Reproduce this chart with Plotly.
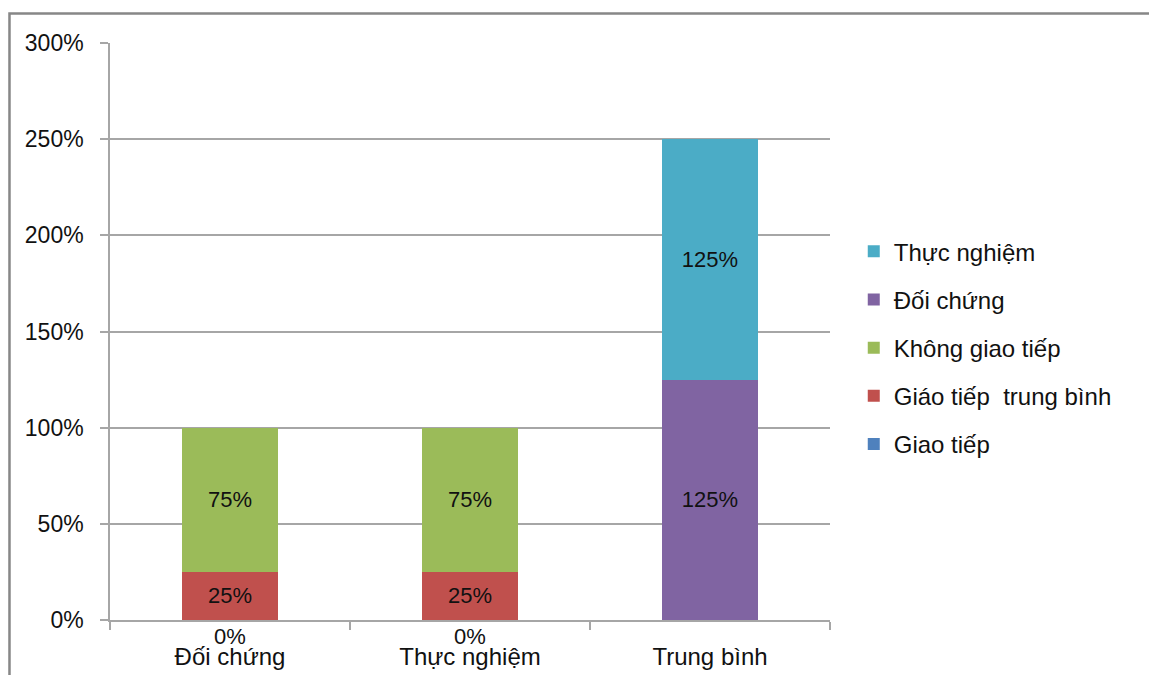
import plotly.graph_objects as go

# Categories and series values (fractions of 1 = 100%)
categories = ["Đối chứng", "Thực nghiệm", "Trung bình"]
giao_tiep = [0, 0, None]
giao_tiep_tb = [0.25, 0.25, None]
khong_giao_tiep = [0.75, 0.75, None]
doi_chung = [None, None, 1.25]
thuc_nghiem = [None, None, 1.25]
y_ticks = [0, 0.5, 1.0, 1.5, 2.0, 2.5, 3.0]

FONT = "Liberation Sans, Arial, sans-serif"
TEXT = "#111111"
GRID = "#a6a6a6"

# stacking order bottom -> top; legend lists them top -> bottom
series = [
    ("Giao tiếp", giao_tiep, "#4f81bd"),
    ("Giáo tiếp  trung bình", giao_tiep_tb, "#c0504d"),
    ("Không giao tiếp", khong_giao_tiep, "#9bbb59"),
    ("Đối chứng", doi_chung, "#8064a2"),
    ("Thực nghiệm", thuc_nghiem, "#4bacc6"),
]


def pct(v):
    return "" if v is None or v == 0 else f"{v:.0%}"


fig = go.Figure()
for i, (name, vals, color) in enumerate(series):
    fig.add_trace(go.Bar(
        x=categories, y=vals, name=name, legendgroup=name,
        legendrank=len(series) - i,
        marker=dict(color=color, line=dict(width=0)),
        text=[pct(v) for v in vals],
        textposition="inside", insidetextanchor="middle",
        textfont=dict(family=FONT, size=22, color=TEXT),
        constraintext="none", hoverinfo="skip",
    ))

# zero-valued labels sit just under the axis
for cat, v in zip(categories, giao_tiep):
    if v is not None:
        fig.add_annotation(x=cat, y=v, text=f"{v:.0%}", showarrow=False,
                           yanchor="top", yshift=-2,
                           font=dict(family=FONT, size=22, color=TEXT))

# outer chart frame
fig.add_shape(type="rect", xref="paper", yref="paper",
              x0=-0.1396, x1=1.46, y0=-0.13, y1=1.0511,
              line=dict(color="#878787", width=2.5), fillcolor="rgba(0,0,0,0)",
              layer="above")

fig.update_layout(
    width=1149, height=675,
    margin=dict(l=110, r=319, t=43, b=55, autoexpand=False),
    barmode="stack", bargap=0.6,
    paper_bgcolor="white", plot_bgcolor="white",
    font=dict(family=FONT, color=TEXT),
    showlegend=True,
    legend=dict(
        x=1.033, xanchor="left", y=0.472, yanchor="middle",
        traceorder="grouped", tracegroupgap=14,
        font=dict(family=FONT, size=24, color=TEXT),
        bgcolor="rgba(0,0,0,0)",
    ),
    xaxis=dict(
        showline=True, linecolor=GRID, linewidth=1.5,
        ticks="outside", tickson="boundaries", ticklen=8, tickcolor=GRID,
        tickwidth=1.5, showgrid=False, automargin=False,
        tickfont=dict(family=FONT, size=24, color=TEXT),
        ticklabelstandoff=14,
    ),
    yaxis=dict(
        range=[0, 3], tickvals=y_ticks, tickformat=".0%",
        showline=True, linecolor=GRID, linewidth=1.5,
        ticks="outside", ticklen=8, tickcolor=GRID, tickwidth=1.5,
        showgrid=True, gridcolor=GRID, gridwidth=1.5, zeroline=False,
        automargin=False,
        tickfont=dict(family=FONT, size=23, color=TEXT),
        ticklabelstandoff=12,
    ),
)

fig.write_html("out.html")
